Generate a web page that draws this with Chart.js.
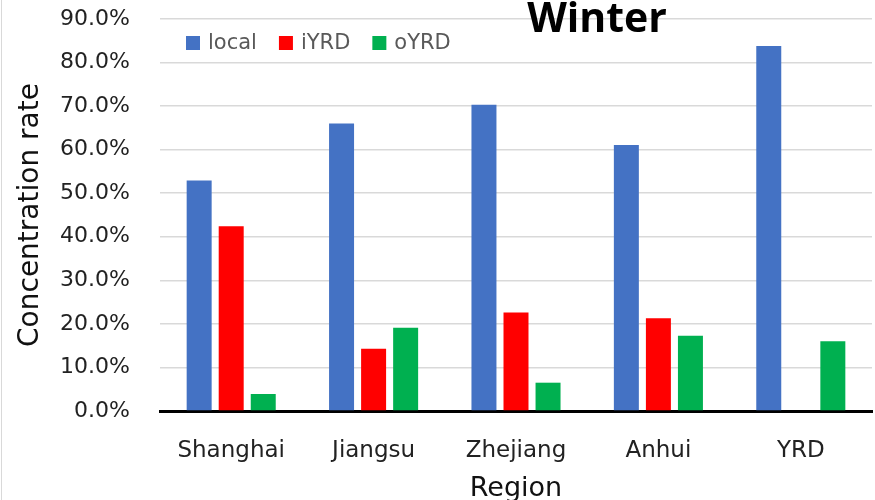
<!DOCTYPE html>
<html>
<head>
<meta charset="utf-8">
<script src="https://cdn.jsdelivr.net/npm/chart.js@4/dist/chart.umd.min.js"></script>
<style>
  html, body { margin: 0; padding: 0; background: #fff; }
  #wrap { width: 875px; height: 500px; position: relative; }
</style>
</head>
<body>
<div id="wrap"><canvas id="chart" width="875" height="500"></canvas></div>
<script>
var regions = ['Shanghai', 'Jiangsu', 'Zhejiang', 'Anhui', 'YRD'];
var seriesNames = ['local', 'iYRD', 'oYRD'];
var localVals = [52.9, 66.0, 70.3, 61.1, 83.8];
var iyrdVals = [42.4, 14.3, 22.6, 21.3, 0];
var oyrdVals = [3.9, 19.1, 6.5, 17.3, 16.0];
var yTicks = [0, 10, 20, 30, 40, 50, 60, 70, 80, 90];
var colors = ['#4472c4', '#ff0000', '#00b050'];

var FONT = "'DejaVu Sans', sans-serif";

// legend + title sit inside the plot area in the original
var overlay = {
  id: 'overlay',
  afterDraw: function (c) {
    var ctx = c.ctx;
    ctx.save();
    // faint frame edge on the left
    ctx.strokeStyle = '#d9d9d9';
    ctx.lineWidth = 1;
    ctx.beginPath();
    ctx.moveTo(1.5, 0);
    ctx.lineTo(1.5, 500);
    ctx.stroke();

    ctx.font = '21px ' + FONT;
    ctx.textBaseline = 'middle';
    ctx.textAlign = 'left';
    var x = 186, y = 43;
    c.data.datasets.forEach(function (d) {
      ctx.fillStyle = d.backgroundColor;
      ctx.fillRect(x, y - 7, 14, 14);
      ctx.fillStyle = '#595959';
      ctx.fillText(d.label, x + 22, y + 1);
      x += 22 + ctx.measureText(d.label).width + 22;
    });

    ctx.font = "bold 41px 'Open Sans', sans-serif";
    ctx.fillStyle = '#000';
    ctx.textAlign = 'center';
    ctx.fillText('Winter', 597, 20);
    ctx.restore();
  }
};

new Chart(document.getElementById('chart'), {
  type: 'bar',
  data: {
    labels: regions,
    datasets: [
      { label: seriesNames[0], data: localVals, backgroundColor: colors[0] },
      { label: seriesNames[1], data: iyrdVals, backgroundColor: colors[1] },
      { label: seriesNames[2], data: oyrdVals, backgroundColor: colors[2] }
    ]
  },
  options: {
    responsive: false,
    animation: false,
    categoryPercentage: 0.675,
    barPercentage: 0.78,
    layout: { padding: { top: 19, right: 3, left: 0, bottom: 0 } },
    plugins: {
      legend: { display: false },
      tooltip: { enabled: false }
    },
    scales: {
      x: {
        grid: { display: false, drawTicks: false },
        border: { display: true, color: '#000', width: 3 },
        ticks: { color: '#222', font: { family: FONT, size: 23 }, padding: 26 },
        title: { display: true, text: 'Region', color: '#111', font: { family: FONT, size: 27 }, padding: { top: 0, bottom: -5 } },
        afterFit: function (s) { s.height = 89; }
      },
      y: {
        min: 0,
        max: 90,
        afterBuildTicks: function (s) { s.ticks = yTicks.map(function (v) { return { value: v }; }); },
        // invisible tick marks push the labels away from the plot
        grid: { color: '#d9d9d9', lineWidth: 1.5, drawTicks: true, tickLength: 28, tickColor: 'rgba(0,0,0,0)' },
        border: { display: false },
        ticks: {
          color: '#222',
          font: { family: FONT, size: 22 },
          padding: 2,
          callback: function (v) { return v.toFixed(1) + '%'; }
        },
        title: { display: true, text: 'Concentration rate', color: '#111', font: { family: FONT, size: 28 }, padding: { top: 14, bottom: 0 } },
        afterFit: function (s) { s.width = 160; }
      }
    }
  },
  plugins: [overlay]
});
</script>
</body>
</html>
